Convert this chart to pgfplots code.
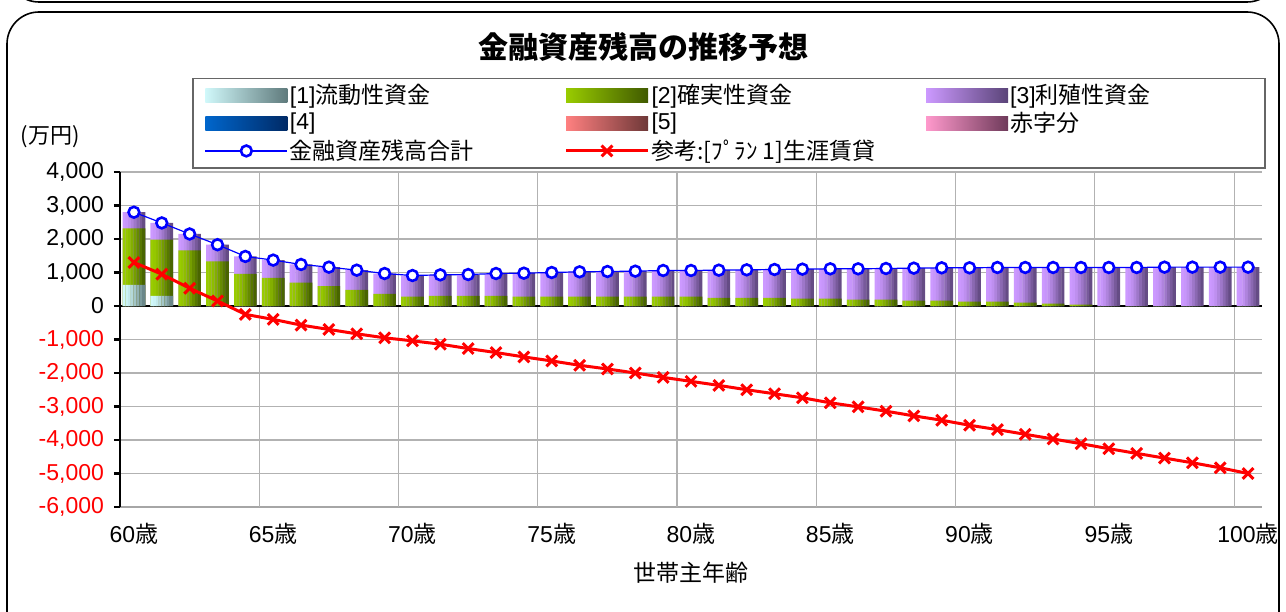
\documentclass[border=0pt]{standalone}
\usepackage{fontspec}
\setmainfont{Liberation Sans}
\newfontfamily\jp{Noto Sans CJK JP}
\usepackage{pgfplots}
\usepackage{pgfplotstable}
\pgfplotsset{compat=1.18}

\definecolor{c1l}{HTML}{D0F8FA}\definecolor{c1r}{HTML}{5F7A7C}
\definecolor{c2l}{HTML}{99CC00}\definecolor{c2r}{HTML}{405A00}
\definecolor{c3l}{HTML}{CC99FF}\definecolor{c3r}{HTML}{5A4478}
\definecolor{c4l}{HTML}{0066CC}\definecolor{c4r}{HTML}{002A66}
\definecolor{c5l}{HTML}{FF8080}\definecolor{c5r}{HTML}{6E3838}
\definecolor{c6l}{HTML}{FF99CC}\definecolor{c6r}{HTML}{6E3A5A}

\pgfplotsset{
  swatch/.style 2 args={legend image code/.code={\shade[draw=none,left color=#1,right color=#2] (0pt,-3.5pt) rectangle (41pt,3.5pt);}},
  lineleg/.style={legend image code/.code={\draw[##1,mark=none] (0pt,0pt) -- (41pt,0pt); \draw[##1] plot coordinates {(20.5pt,0pt)};}},
  totstyle/.style={blue, line width=0.6pt, mark=*, mark size=2.7pt, mark options={fill=white, draw=blue, line width=1.3pt}},
  refstyle/.style={red, line width=1.5pt, mark=x, mark size=3.8pt, mark options={solid, line width=1.5pt}},
}

% age, [1] liquid, [2] secure, [3] investment, total, reference plan
\pgfplotstableread{
age liq sure inv total ref
60 630 1690 480 2800 1300
61 300 1680 500 2480 950
62 0 1660 490 2150 530
63 0 1330 500 1830 150
64 0 960 520 1480 -250
65 0 840 530 1370 -400
66 0 700 540 1240 -570
67 0 590 570 1160 -700
68 0 480 590 1070 -830
69 0 360 610 970 -950
70 0 280 630 910 -1040
71 0 300 630 930 -1140
72 0 300 640 940 -1270
73 0 300 670 970 -1390
74 0 280 700 980 -1520
75 0 280 720 1000 -1640
76 0 280 740 1020 -1770
77 0 280 750 1030 -1880
78 0 280 760 1040 -2000
79 0 280 780 1060 -2130
80 0 280 780 1060 -2250
81 0 240 830 1070 -2370
82 0 240 840 1080 -2500
83 0 240 850 1090 -2620
84 0 220 880 1100 -2740
85 0 220 890 1110 -2890
86 0 190 920 1110 -3010
87 0 190 930 1120 -3140
88 0 160 970 1130 -3280
89 0 160 980 1140 -3410
90 0 130 1010 1140 -3560
91 0 130 1020 1150 -3690
92 0 100 1050 1150 -3830
93 0 70 1080 1150 -3970
94 0 40 1110 1150 -4110
95 0 0 1150 1150 -4260
96 0 0 1150 1150 -4400
97 0 0 1160 1160 -4540
98 0 0 1160 1160 -4680
99 0 0 1160 1160 -4830
100 0 0 1160 1160 -5000
}\data

% one vertical strip of every bar: #1 shift, #2 share of the dark end colour
% (strips side by side give the horizontal gradient of the bars)
\newcommand\strip[2]{%
  \addplot[ybar, forget plot, bar width=0.114, bar shift=#1, draw=none, fill=c3r!#2!c3l] table[x=age,y=total]{\data};
  \addplot[ybar, forget plot, bar width=0.114, bar shift=#1, draw=none, fill=c2r!#2!c2l] table[x=age,y expr=\thisrow{liq}+\thisrow{sure}]{\data};
  \addplot[ybar, forget plot, bar width=0.114, bar shift=#1, draw=none, fill=c1r!#2!c1l] table[x=age,y=liq]{\data};
}

\begin{document}
\begin{tikzpicture}
\path[use as bounding box] (0,0) rectangle (643pt,305.5pt);
% frames
\draw[line width=0.8pt, rounded corners=16pt] (3.5pt,304.5pt) -- (3.5pt,420pt) -- (639.5pt,420pt) -- (639.5pt,304.5pt) -- cycle;
\draw[line width=0.8pt, rounded corners=16pt] (3.5pt,-30pt) rectangle (639.5pt,299.5pt);
% title
\node[font=\jp\bfseries\fontsize{15}{18}\selectfont] at (321.5pt,282pt) {金融資産残高の推移予想};
\node[font=\jp\fontsize{11}{13}\selectfont] at (25pt,237pt) {(万円)};

\begin{axis}[
  at={(60pt,52pt)}, anchor=south west,
  scale only axis, width=571pt, height=167.5pt,
  xmin=59.5, xmax=100.5, ymin=-6000, ymax=4000,
  axis x line*=bottom, axis y line*=left,
  x axis line style={gray!70, line width=0.6pt},
  y axis line style={black, line width=1.3pt},
  xtick={60,65,...,100},
  xticklabels={60{\jp 歳},65{\jp 歳},70{\jp 歳},75{\jp 歳},80{\jp 歳},85{\jp 歳},90{\jp 歳},95{\jp 歳},100{\jp 歳}},
  xtick style={draw=none},
  extra x ticks={64.5,69.5,...,99.5},
  extra x tick labels={},
  extra x tick style={xmajorgrids=true, major tick length=0pt},
  ytick={-6000,-5000,...,4000},
  yticklabels={{\color{red}-6,000},{\color{red}-5,000},{\color{red}-4,000},{\color{red}-3,000},{\color{red}-2,000},{\color{red}-1,000},0,{1,000},{2,000},{3,000},{4,000}},
  ytick style={black, line width=1.3pt},
  major tick length=3pt, tick align=outside,
  ymajorgrids,
  major grid style={gray!60, line width=0.6pt},
  extra y ticks={0}, extra y tick labels={},
  extra y tick style={major grid style={black, line width=1.4pt}, major tick length=0pt},
  tick label style={font=\fontsize{11.5}{13}\selectfont},
  xticklabel style={yshift=-1.5pt},
  yticklabel style={xshift=-1.5pt},
  xlabel={\jp 世帯主年齢},
  xlabel style={font=\fontsize{11.5}{13}\selectfont, at={(axis description cs:0.5,0)}, anchor=center, yshift=-33pt},
  legend columns=3,
  legend cell align=left,
  legend style={at={(0.063,1.282)}, anchor=north west, draw=gray!80!black, line width=0.8pt,
    font=\fontsize{11.5}{13}\selectfont, row sep=1.5pt, column sep=0pt, inner xsep=6pt, inner ysep=2.3pt,
    nodes={inner xsep=1pt, inner ysep=0.6pt}},
]
\strip{-0.35}{0}
\strip{-0.25}{4}
\strip{-0.15}{12}
\strip{-0.05}{25}
\strip{0.05}{40}
\strip{0.15}{57}
\strip{0.25}{74}
\strip{0.35}{90}
\addlegendimage{swatch={c1l}{c1r}}
\addlegendentry{\makebox[136.3pt][l]{[1]{\jp 流動性資金}}}
\addlegendimage{swatch={c2l}{c2r}}
\addlegendentry{\makebox[136.3pt][l]{[2]{\jp 確実性資金}}}
\addlegendimage{swatch={c3l}{c3r}}
\addlegendentry{\makebox[120.5pt][l]{[3]{\jp 利殖性資金}}}
\addlegendimage{swatch={c4l}{c4r}}
\addlegendentry{[4]}
\addlegendimage{swatch={c5l}{c5r}}
\addlegendentry{[5]}
\addlegendimage{swatch={c6l}{c6r}}
\addlegendentry{\jp 赤字分}
\addlegendimage{totstyle, lineleg}
\addlegendentry{\jp 金融資産残高合計}
\addlegendimage{refstyle, lineleg}
\addlegendentry{\jp 参考:[ﾌﾟﾗﾝ 1]生涯賃貸}
\end{axis}

\begin{axis}[
  at={(60pt,52pt)}, anchor=south west,
  scale only axis, width=571pt, height=167.5pt,
  xmin=59.5, xmax=100.5, ymin=-6000, ymax=4000,
  hide axis, clip=false,
]
\addplot[totstyle] table[x=age,y=total]{\data};
\addplot[refstyle] table[x=age,y=ref]{\data};
\end{axis}
\end{tikzpicture}
\end{document}
